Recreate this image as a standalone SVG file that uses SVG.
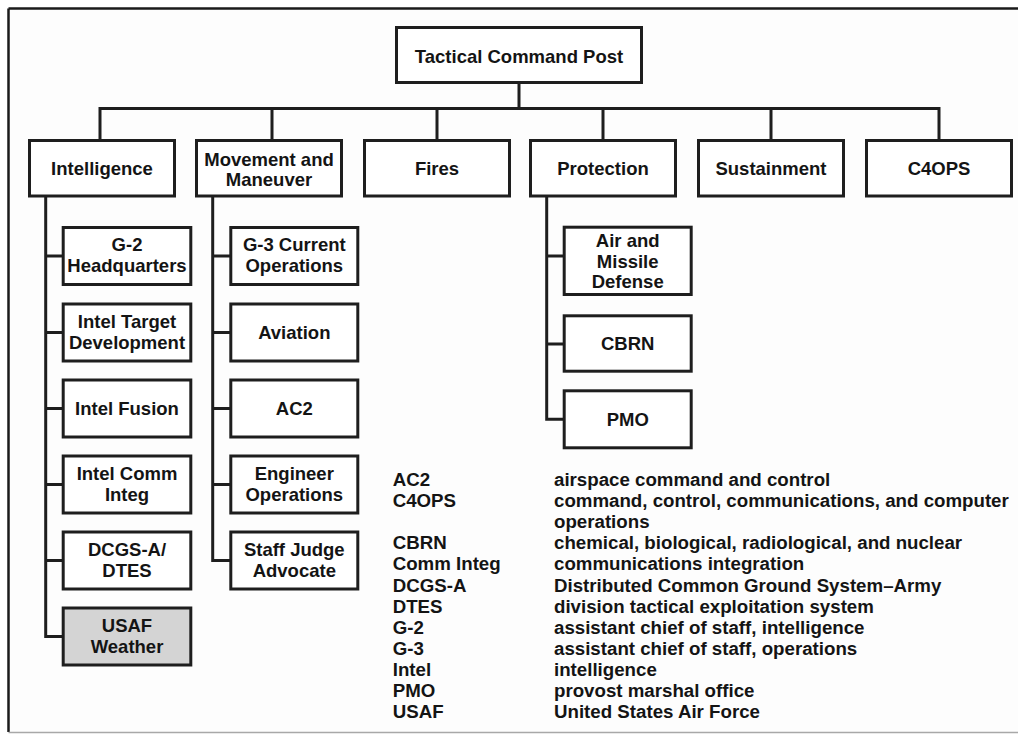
<svg xmlns="http://www.w3.org/2000/svg" width="1018" height="734" viewBox="0 0 1018 734">
<style>
.bg{fill:#fdfdfd}
.box{fill:#ffffff;stroke:#1e1e1e;stroke-width:3}
.gray{fill:#d4d4d4}
.ln{fill:none;stroke:#1e1e1e;stroke-width:3;stroke-linecap:square}
.t{font-family:"Liberation Sans",Arial,Helvetica,sans-serif;font-weight:bold;font-size:18.5px;fill:#141414;text-anchor:middle}
.lg{font-family:"Liberation Sans",Arial,Helvetica,sans-serif;font-weight:bold;font-size:18.7px;fill:#141414}
</style>
<rect x="0" y="0" width="1018" height="734" fill="#ffffff"/>
<rect class="bg" x="9" y="9" width="1009" height="723"/>
<g id="frame">
<line x1="8.5" y1="8.5" x2="1018" y2="8.5" stroke="#1a1a1a" stroke-width="2.5"/>
<line x1="8.5" y1="8.5" x2="8.5" y2="732" stroke="#1a1a1a" stroke-width="2.5"/>
<line x1="8.5" y1="732.5" x2="1018" y2="732.5" stroke="#a8a8a8" stroke-width="1.5"/>
</g>
<g id="connectors">
<path class="ln" d="M519 84 V108.5 M100 108.5 H939 M100 108.5 V139 M272 108.5 V139 M437 108.5 V139 M603 108.5 V139 M771 108.5 V139 M939 108.5 V139"/>
<path class="ln" d="M45.7 197 V636.5 M45.7 256 H62 M45.7 332.5 H62 M45.7 408.5 H62 M45.7 484.5 H62 M45.7 560.5 H62 M45.7 636.5 H62"/>
<path class="ln" d="M212.7 197 V560.5 M212.7 256 H229 M212.7 332.5 H229 M212.7 408.5 H229 M212.7 484.5 H229 M212.7 560.5 H229"/>
<path class="ln" d="M546.7 197 V419.3 M546.7 256 H562 M546.7 344 H562 M546.7 419.3 H562"/>
</g>
<g id="tcp"><rect class="box" x="396.5" y="27.5" width="245" height="55"/><text class="t" x="519" y="62.7">Tactical Command Post</text></g>
<g id="intelligence"><rect class="box" x="29.5" y="140.5" width="145" height="55.5"/><text class="t" x="102" y="175">Intelligence</text></g>
<g id="movement"><rect class="box" x="196.5" y="140.5" width="145" height="55.5"/><text class="t" x="269" y="165.5">Movement and</text><text class="t" x="269" y="186">Maneuver</text></g>
<g id="fires"><rect class="box" x="364.5" y="140.5" width="145" height="55.5"/><text class="t" x="437" y="175">Fires</text></g>
<g id="protection"><rect class="box" x="530.5" y="140.5" width="145" height="55.5"/><text class="t" x="603" y="175">Protection</text></g>
<g id="sustainment"><rect class="box" x="698.5" y="140.5" width="145" height="55.5"/><text class="t" x="771" y="175">Sustainment</text></g>
<g id="c4ops"><rect class="box" x="866.5" y="140.5" width="145" height="55.5"/><text class="t" x="939" y="175">C4OPS</text></g>

<g id="g2hq"><rect class="box" x="63.2" y="227.5" width="127.6" height="57"/><text class="t" x="127" y="251">G-2</text><text class="t" x="127" y="272">Headquarters</text></g>
<g id="inteltarget"><rect class="box" x="63.2" y="304" width="127.6" height="57"/><text class="t" x="127" y="327.5">Intel Target</text><text class="t" x="127" y="348.5">Development</text></g>
<g id="intelfusion"><rect class="box" x="63.2" y="380" width="127.6" height="57"/><text class="t" x="127" y="415">Intel Fusion</text></g>
<g id="intelcomm"><rect class="box" x="63.2" y="456" width="127.6" height="57"/><text class="t" x="127" y="479.5">Intel Comm</text><text class="t" x="127" y="500.5">Integ</text></g>
<g id="dcgs"><rect class="box" x="63.2" y="532" width="127.6" height="57"/><text class="t" x="127" y="555.5">DCGS-A/</text><text class="t" x="127" y="576.5">DTES</text></g>
<g id="usaf"><rect class="box gray" x="63.2" y="608" width="127.6" height="57"/><text class="t" x="127" y="631.5">USAF</text><text class="t" x="127" y="652.5">Weather</text></g>

<g id="g3"><rect class="box" x="230.8" y="227.5" width="127" height="57"/><text class="t" x="294.3" y="251">G-3 Current</text><text class="t" x="294.3" y="272">Operations</text></g>
<g id="aviation"><rect class="box" x="230.8" y="304" width="127" height="57"/><text class="t" x="294.3" y="339">Aviation</text></g>
<g id="ac2"><rect class="box" x="230.8" y="380" width="127" height="57"/><text class="t" x="294.3" y="415">AC2</text></g>
<g id="engineer"><rect class="box" x="230.8" y="456" width="127" height="57"/><text class="t" x="294.3" y="479.5">Engineer</text><text class="t" x="294.3" y="500.5">Operations</text></g>
<g id="sja"><rect class="box" x="230.8" y="532" width="127" height="57"/><text class="t" x="294.3" y="555.5">Staff Judge</text><text class="t" x="294.3" y="576.5">Advocate</text></g>

<g id="amd"><rect class="box" x="564.2" y="227.2" width="127" height="67.3"/><text class="t" x="627.7" y="246.7">Air and</text><text class="t" x="627.7" y="267.7">Missile</text><text class="t" x="627.7" y="288.3">Defense</text></g>
<g id="cbrn"><rect class="box" x="564.2" y="315.8" width="127" height="55.4"/><text class="t" x="627.7" y="350">CBRN</text></g>
<g id="pmo"><rect class="box" x="564.2" y="390.8" width="127" height="57"/><text class="t" x="627.7" y="426">PMO</text></g>

<g id="legend" class="lg">
<text x="392.7" y="486">AC2</text><text x="554" y="486">airspace command and control</text>
<text x="392.7" y="507.1">C4OPS</text><text x="554" y="507.1">command, control, communications, and computer</text>
<text x="554" y="528.2">operations</text>
<text x="392.7" y="549.3">CBRN</text><text x="554" y="549.3">chemical, biological, radiological, and nuclear</text>
<text x="392.7" y="570.4">Comm Integ</text><text x="554" y="570.4">communications integration</text>
<text x="392.7" y="591.5">DCGS-A</text><text x="554" y="591.5">Distributed Common Ground System–Army</text>
<text x="392.7" y="612.6">DTES</text><text x="554" y="612.6">division tactical exploitation system</text>
<text x="392.7" y="633.7">G-2</text><text x="554" y="633.7">assistant chief of staff, intelligence</text>
<text x="392.7" y="654.8">G-3</text><text x="554" y="654.8">assistant chief of staff, operations</text>
<text x="392.7" y="675.9">Intel</text><text x="554" y="675.9">intelligence</text>
<text x="392.7" y="697">PMO</text><text x="554" y="697">provost marshal office</text>
<text x="392.7" y="718.1">USAF</text><text x="554" y="718.1">United States Air Force</text>
</g>
</svg>
